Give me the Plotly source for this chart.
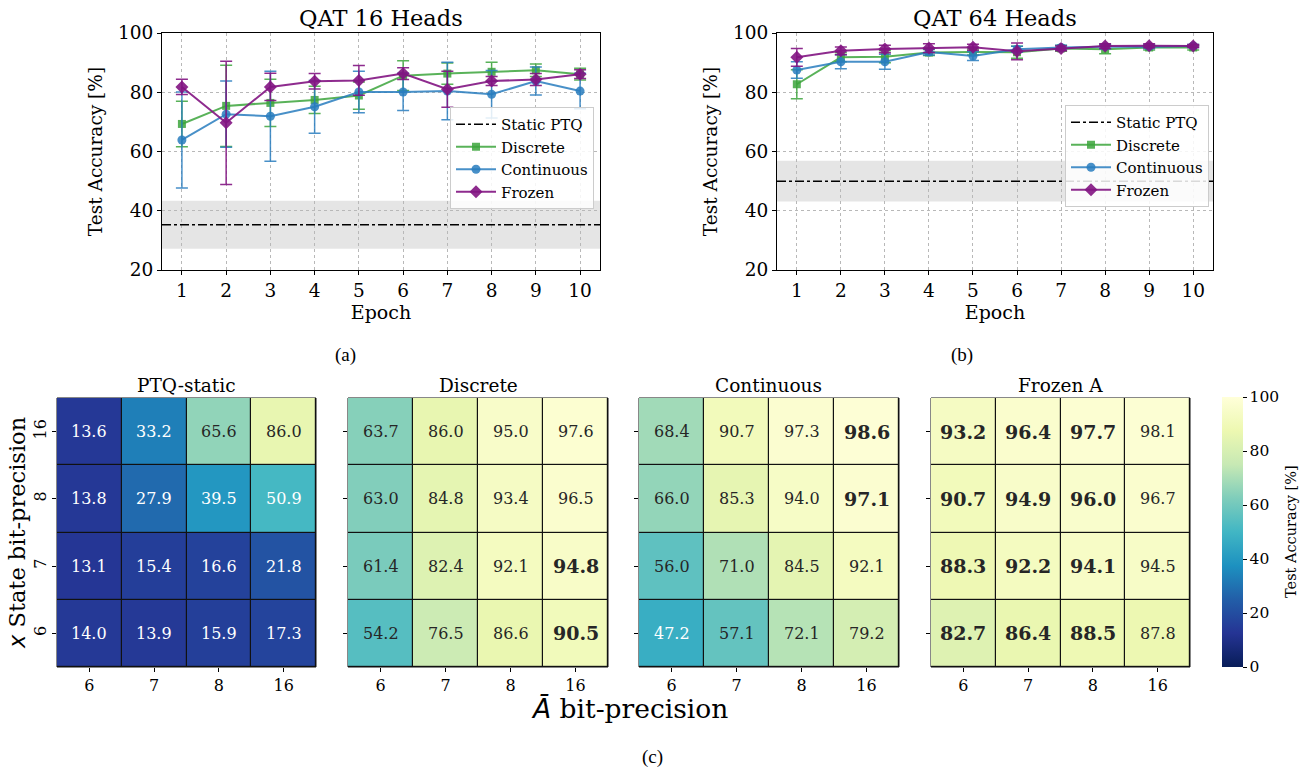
import plotly.graph_objects as go

# ---------------- data ----------------
epochs = [1, 2, 3, 4, 5, 6, 7, 8, 9, 10]

# QAT 16 heads
h16_discrete = [69.3, 75.4, 76.4, 77.4, 78.9, 85.6, 86.3, 86.9, 87.4, 86.1]
h16_discrete_err = [7.7, 13.7, 8.0, 4.6, 4.6, 5.0, 3.6, 3.2, 2.1, 2.0]
h16_continuous = [63.9, 72.6, 71.9, 75.1, 80.1, 80.1, 80.4, 79.3, 83.8, 80.4]
h16_continuous_err = [16.2, 11.2, 15.2, 8.9, 7.0, 6.3, 9.7, 8.0, 4.7, 6.0]
h16_frozen = [81.8, 69.7, 81.8, 83.7, 84.0, 86.3, 81.0, 83.8, 84.3, 86.1]
h16_frozen_err = [2.6, 20.8, 4.6, 2.6, 5.0, 2.0, 6.1, 1.5, 2.0, 1.5]
h16_static_mean = 35.3
h16_static_std = 8.1

# QAT 64 heads
h64_discrete = [82.7, 91.8, 92.0, 93.4, 93.6, 93.5, 94.8, 94.5, 95.1, 95.1]
h64_discrete_err = [4.9, 1.5, 2.0, 1.0, 1.0, 2.0, 1.0, 1.5, 0.8, 0.8]
h64_continuous = [87.5, 90.3, 90.3, 93.6, 92.2, 94.5, 95.1, 95.4, 95.4, 95.6]
h64_continuous_err = [2.8, 2.4, 2.5, 1.0, 1.5, 1.0, 0.8, 0.7, 0.6, 0.5]
h64_frozen = [91.8, 94.0, 94.6, 94.9, 95.2, 93.8, 94.8, 95.6, 95.7, 95.6]
h64_frozen_err = [3.0, 1.3, 1.3, 1.5, 1.0, 2.8, 0.8, 0.8, 0.7, 0.5]
h64_static_mean = 50.0
h64_static_std = 6.9

# heatmaps (rows top->bottom = state bits 16, 8, 7, 6 ; cols = A bits 6, 7, 8, 16)
a_bits = ["6", "7", "8", "16"]
state_bits = ["16", "8", "7", "6"]
ptq_static = [[13.6, 33.2, 65.6, 86.0],
              [13.8, 27.9, 39.5, 50.9],
              [13.1, 15.4, 16.6, 21.8],
              [14.0, 13.9, 15.9, 17.3]]
discrete = [[63.7, 86.0, 95.0, 97.6],
            [63.0, 84.8, 93.4, 96.5],
            [61.4, 82.4, 92.1, 94.8],
            [54.2, 76.5, 86.6, 90.5]]
continuous = [[68.4, 90.7, 97.3, 98.6],
              [66.0, 85.3, 94.0, 97.1],
              [56.0, 71.0, 84.5, 92.1],
              [47.2, 57.1, 72.1, 79.2]]
frozen = [[93.2, 96.4, 97.7, 98.1],
          [90.7, 94.9, 96.0, 96.7],
          [88.3, 92.2, 94.1, 94.5],
          [82.7, 86.4, 88.5, 87.8]]
heat_titles = ["PTQ-static", "Discrete", "Continuous", "Frozen A"]

# which cells are printed in bold
bold_ptq = [[0, 0, 0, 0], [0, 0, 0, 0], [0, 0, 0, 0], [0, 0, 0, 0]]
bold_discrete = [[0, 0, 0, 0], [0, 0, 0, 0], [0, 0, 0, 1], [0, 0, 0, 1]]
bold_continuous = [[0, 0, 0, 1], [0, 0, 0, 1], [0, 0, 0, 0], [0, 0, 0, 0]]
bold_frozen = [[1, 1, 1, 0], [1, 1, 1, 0], [1, 1, 1, 0], [1, 1, 1, 0]]

# ---------------- style ----------------
SERIF = "DejaVu Serif"
SANS = "DejaVu Sans"
CAP = "Liberation Serif"
W, H = 1310, 768
GREEN = "rgba(60,165,60,0.85)"
BLUE = "rgba(40,125,190,0.85)"
PURPLE = "rgba(130,20,130,0.9)"
YLGNBU = [[0.0, "#081d58"], [0.125, "#253494"], [0.25, "#225ea8"], [0.375, "#1d91c0"],
          [0.5, "#41b6c4"], [0.625, "#7fcdbb"], [0.75, "#c7e9b4"], [0.875, "#edf8b1"],
          [1.0, "#ffffd9"]]


def px_x(a, b):
    return [a / W, b / W]


def px_y(top, bottom):
    return [1 - bottom / H, 1 - top / H]


fig = go.Figure()
shapes = []

# ---------------- line plots ----------------
line_sets = [
    ("x", "y", "legend", h16_discrete, h16_discrete_err, h16_continuous, h16_continuous_err,
     h16_frozen, h16_frozen_err, h16_static_mean, h16_static_std),
    ("x2", "y2", "legend2", h64_discrete, h64_discrete_err, h64_continuous, h64_continuous_err,
     h64_frozen, h64_frozen_err, h64_static_mean, h64_static_std),
]

for (xa, ya, lg, d, de, c, ce, f, fe, sm, ss) in line_sets:
    fig.add_trace(go.Scatter(x=[None], y=[None], mode="lines", name="Static PTQ",
                             line=dict(color="black", dash="dashdot", width=1.5),
                             xaxis=xa, yaxis=ya, legend=lg))
    for name, vals, errs, col, sym, msize in [
        ("Discrete", d, de, GREEN, "square", 8),
        ("Continuous", c, ce, BLUE, "circle", 9),
        ("Frozen", f, fe, PURPLE, "diamond", 10),
    ]:
        fig.add_trace(go.Scatter(
            x=epochs, y=vals, mode="lines+markers", name=name,
            line=dict(color=col, width=2),
            marker=dict(color=col, symbol=sym, size=msize),
            error_y=dict(type="data", array=errs, visible=True, color=col, thickness=1.5, width=6),
            xaxis=xa, yaxis=ya, legend=lg))
    xd = xa + " domain"
    shapes.append(dict(type="rect", xref=xd, yref=ya, x0=0, x1=1, y0=sm - ss, y1=sm + ss,
                       fillcolor="rgba(0,0,0,0.1)", line=dict(width=0), layer="below"))
    shapes.append(dict(type="line", xref=xd, yref=ya, x0=0, x1=1, y0=sm, y1=sm,
                       line=dict(color="black", width=1.5, dash="dashdot"), layer="above"))

line_x_axis = dict(range=[0.55, 10.45], tickmode="array", tickvals=epochs, ticks="outside",
                   ticklen=4, tickcolor="black", showline=True, linecolor="black", linewidth=1,
                   mirror=True, showgrid=True, gridcolor="#b8b8b8", griddash="3px,3px", gridwidth=0.8,
                   zeroline=False, automargin=False,
                   tickfont=dict(family=SERIF, size=18.5, color="black"),
                   title=dict(text="Epoch", font=dict(family=SERIF, size=19, color="black"), standoff=4))
line_y_axis = dict(range=[20, 100], tickmode="array", tickvals=[20, 40, 60, 80, 100], ticks="outside",
                   ticklen=4, tickcolor="black", showline=True, linecolor="black", linewidth=1,
                   mirror=True, showgrid=True, gridcolor="#b8b8b8", griddash="3px,3px", gridwidth=0.8,
                   zeroline=False, automargin=False,
                   tickfont=dict(family=SERIF, size=18.5, color="black"),
                   title=dict(text="Test Accuracy [%]", font=dict(family=SERIF, size=18.5, color="black"),
                              standoff=10))

layout_axes = dict(
    xaxis=dict(line_x_axis, domain=px_x(162, 600), anchor="y"),
    yaxis=dict(line_y_axis, domain=px_y(33, 270), anchor="x"),
    xaxis2=dict(line_x_axis, domain=px_x(777, 1213), anchor="y2"),
    yaxis2=dict(line_y_axis, domain=px_y(33, 270), anchor="x2"),
)

legend_style = dict(font=dict(family=SERIF, size=15, color="black"), bgcolor="rgba(255,255,255,0.85)",
                    bordercolor="#cccccc", borderwidth=1, xanchor="left", yanchor="top",
                    itemwidth=40, tracegroupgap=0)

# ---------------- heatmaps ----------------
heat_x = [(57, 316), (348, 608), (639, 899), (931, 1190)]
heat_data = [ptq_static, discrete, continuous, frozen]
heat_bold = [bold_ptq, bold_discrete, bold_continuous, bold_frozen]
annotations = []

for i, (mat, bold, title, (xl, xr)) in enumerate(zip(heat_data, heat_bold, heat_titles, heat_x)):
    n = i + 3
    xa, ya = f"x{n}", f"y{n}"
    fig.add_trace(go.Heatmap(
        z=mat, x=a_bits, y=state_bits, zmin=0, zmax=100, colorscale=YLGNBU,
        xgap=1.2, ygap=1.2, showscale=(i == 3),
        colorbar=dict(x=1222 / W, xanchor="left", y=1 - 667 / H, yanchor="bottom",
                      len=270 / H, lenmode="fraction", thickness=21, thicknessmode="pixels",
                      xpad=0, ypad=0,
                      outlinewidth=0, ticks="outside", ticklen=4, tickcolor="black",
                      tickvals=[0, 20, 40, 60, 80, 100],
                      tickfont=dict(family=SERIF, size=15.5, color="black")),
        hoverinfo="skip", xaxis=xa, yaxis=ya))
    shapes.append(dict(type="rect", xref=f"{xa} domain", yref=f"{ya} domain", x0=0, x1=1, y0=0, y1=1,
                       fillcolor="#111111", line=dict(color="#111111", width=1), layer="below"))
    layout_axes[f"xaxis{n}"] = dict(
        domain=px_x(xl, xr), anchor=ya, type="category", categoryorder="array",
        categoryarray=a_bits, ticks="outside", ticklen=4, tickcolor="black", showgrid=False,
        zeroline=False, showline=False, automargin=False,
        tickfont=dict(family=SERIF, size=16, color="black"))
    layout_axes[f"yaxis{n}"] = dict(
        domain=px_y(398, 667), anchor=xa, type="category", categoryorder="array",
        categoryarray=["6", "7", "8", "16"], ticks="outside", ticklen=4, tickcolor="black",
        showgrid=False, zeroline=False, showline=False, showticklabels=(i == 0), tickangle=-90,
        automargin=False, tickfont=dict(family=SERIF, size=16, color="black"))
    for r, sb in enumerate(state_bits):
        for c, ab in enumerate(a_bits):
            v = mat[r][c]
            txt = f"{v:.1f}"
            b = bold[r][c]
            annotations.append(dict(
                x=c, y=3 - r, xref=xa, yref=ya, showarrow=False,
                text=f"<b>{txt}</b>" if b else txt,
                font=dict(family=SERIF, size=19 if b else 16,
                          color="white" if v < 52 else "#262626")))
    annotations.append(dict(x=(xl + xr) / 2 / W, y=1 - 385 / H, xref="paper", yref="paper",
                            xanchor="center", yanchor="middle", showarrow=False, text=title,
                            font=dict(family=SERIF, size=18.5, color="black")))

# titles and captions
extra = [
    dict(x=381 / W, y=1 - 18 / H, text="QAT 16 Heads", font=dict(family=SERIF, size=22.5, color="black")),
    dict(x=995 / W, y=1 - 18 / H, text="QAT 64 Heads", font=dict(family=SERIF, size=22.5, color="black")),
    dict(x=345 / W, y=1 - 355 / H, text="(a)", font=dict(family=CAP, size=19, color="black")),
    dict(x=962 / W, y=1 - 355 / H, text="(b)", font=dict(family=CAP, size=19, color="black")),
    dict(x=652 / W, y=1 - 757 / H, text="(c)", font=dict(family=CAP, size=19, color="black")),
    dict(x=629 / W, y=1 - 708 / H,
         text=f"<span style='font-family:{SANS}'><i>Ā</i></span> bit-precision",
         font=dict(family=SERIF, size=26.5, color="black")),
    dict(x=17 / W, y=1 - 533 / H, textangle=-90,
         text=f"<span style='font-family:{SANS}'><i>x</i></span> State bit-precision",
         font=dict(family=SERIF, size=22.5, color="black")),
    dict(x=1291 / W, y=1 - 532 / H, textangle=-90, text="Test Accuracy [%]",
         font=dict(family=SERIF, size=14.5, color="black")),
]
for a in extra:
    a.update(xref="paper", yref="paper", showarrow=False, xanchor="center", yanchor="middle")
annotations += extra

fig.update_layout(
    **layout_axes,
    legend=dict(legend_style, x=450 / W, y=1 - 107 / H),
    legend2=dict(legend_style, x=1065 / W, y=1 - 105 / H),
    annotations=annotations,
    shapes=shapes,
    width=W, height=H, margin=dict(l=0, r=0, t=0, b=0, autoexpand=False),
    paper_bgcolor="white", plot_bgcolor="white",
    font=dict(family=SERIF, color="black"),
)

fig.write_html("out.html", config={"displayModeBar": False},
               post_script="document.body.style.margin='0';")
